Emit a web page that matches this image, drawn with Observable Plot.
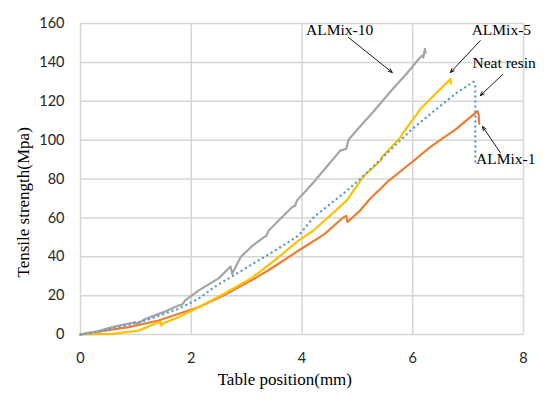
<!DOCTYPE html>
<html>
<head>
<meta charset="utf-8">
<script src="https://cdn.jsdelivr.net/npm/d3@7"></script>
<script src="https://cdn.jsdelivr.net/npm/@observablehq/plot@0.6"></script>
<style>
  html, body { margin: 0; padding: 0; background: #fff; }
  #chart svg { display: block; }
</style>
</head>
<body>
<div id="chart"></div>
<script>
// Tensile test curves: table position (mm) vs tensile strength (MPa)
const neatX = [0, 0.57, 1.17, 1.77, 2.13, 2.41, 3.01, 3.61, 3.94, 4.21, 4.81, 5.05, 5.47, 5.8, 6.0, 6.3, 6.56, 6.8, 7.1, 7.13, 7.13];
const neatY = [0, 2.9, 7.2, 13.2, 18.4, 24.3, 34.6, 44.9, 51, 60.3, 74, 80, 91.5, 100.5, 106, 113, 119, 124.5, 130, 128, 88];

const almix1X = [0, 0.26, 0.87, 1.41, 2.13, 2.58, 3.19, 3.5, 3.94, 4.4, 4.75, 4.8, 4.82, 5.05, 5.23, 5.42, 5.54, 6.0, 6.32, 6.8, 7.17, 7.19, 7.2];
const almix1Y = [0, 1.2, 3.8, 7.2, 14, 20, 29.5, 35, 43.2, 51.5, 60.3, 61, 57.8, 63.8, 69.8, 75, 78.5, 89, 96.5, 106, 114.9, 113, 108.4];

const almix5X = [0, 0.3, 0.57, 1.05, 1.41, 1.44, 1.46, 1.5, 1.77, 2.13, 2.53, 3.0, 3.12, 3.15, 3.19, 3.5, 3.94, 4.21, 4.81, 5.1, 5.42, 5.45, 5.78, 5.82, 6.14, 6.4, 6.65, 6.68, 6.69];
const almix5Y = [0, 0.2, 0.3, 2, 6.3, 6.6, 4.6, 5.8, 8.9, 14, 20, 27.5, 29.5, 30.5, 31.2, 38, 48.4, 53.5, 69, 81, 89.5, 91.5, 101.5, 103.5, 116, 123.5, 130.5, 131.5, 129];

const almix10X = [0, 0.3, 0.57, 0.99, 1.03, 1.17, 1.5, 1.77, 1.84, 1.89, 2.13, 2.5, 2.71, 2.74, 2.89, 3.1, 3.31, 3.35, 3.4, 3.61, 3.82, 3.88, 3.91, 4.21, 4.69, 4.8, 4.84, 5.0, 5.3, 5.63, 5.9, 6.1, 6.17, 6.19, 6.22, 6.23];
const almix10Y = [0, 1.5, 3.8, 6.3, 5.6, 8, 11.5, 14.9, 15.5, 17.5, 22.6, 29, 35, 31.2, 39.8, 45.5, 50, 50.5, 53.5, 59.5, 65.5, 66.4, 69, 78.3, 94.6, 95.5, 100.2, 105.5, 115, 126, 134.5, 141.5, 143.5, 142.5, 147, 145];

// Callout labels and their leader arrows (data coordinates)
const labelText = ["ALMix-10", "ALMix-5", "Neat resin", "ALMix-1"];
const labelX = [4.68, 7.6, 7.65, 7.68];
const labelY = [156.6, 156.6, 139.9, 90.5];
const arrowX1 = [4.84, 7.22, 7.62, 7.58];
const arrowY1 = [152.8, 151.2, 133.7, 93.6];
const arrowX2 = [5.63, 6.68, 7.22, 7.26];
const arrowY2 = [134.8, 134.8, 122.9, 107];

const xTicks = [0, 2, 4, 6, 8];
const yTicks = [0, 20, 40, 60, 80, 100, 120, 140, 160];

const xTitle = "Table position(mm)";
const yTitle = "Tensile strength(Mpa)";

const series = (xs, ys) => xs.map((x, i) => ({x, y: ys[i]}));
const labels = labelText.map((t, i) => ({t, x: labelX[i], y: labelY[i]}));
const arrows = arrowX1.map((x1, i) => ({x1, y1: arrowY1[i], x2: arrowX2[i], y2: arrowY2[i]}));

const serif = "'Liberation Serif', 'Times New Roman', serif";
const sans = "Lato, 'Open Sans', sans-serif";
const gridColor = "#d6d6d6";

const chart = Plot.plot({
  width: 558,
  height: 402,
  marginLeft: 80,
  marginRight: 35,
  marginTop: 23,
  marginBottom: 68,
  style: {background: "#fff", overflow: "visible"},
  x: {domain: [0, 8]},
  y: {domain: [0, 160]},
  marks: [
    Plot.ruleX(xTicks, {x: (d) => d, stroke: gridColor, strokeWidth: 1.5}),
    Plot.ruleY(yTicks, {y: (d) => d, stroke: gridColor, strokeWidth: 1.5}),
    Plot.axisX(xTicks, {tickSize: 0, tickPadding: 18, fontSize: 14.5, fontFamily: sans, fill: "#262626", label: null}),
    Plot.axisY(yTicks, {tickSize: 0, tickPadding: 16, fontSize: 14.5, fontFamily: sans, fill: "#262626", label: null}),
    Plot.line(series(almix1X, almix1Y), {x: "x", y: "y", stroke: "#ed7d31", strokeWidth: 2.2, strokeLinejoin: "round"}),
    Plot.line(series(almix5X, almix5Y), {x: "x", y: "y", stroke: "#ffc000", strokeWidth: 2.2, strokeLinejoin: "round"}),
    Plot.line(series(almix10X, almix10Y), {x: "x", y: "y", stroke: "#a5a5a5", strokeWidth: 2.2, strokeLinejoin: "round"}),
    Plot.line(series(neatX, neatY), {x: "x", y: "y", stroke: "#5b9bd5", strokeWidth: 2.4, strokeLinecap: "round", strokeDasharray: "0.01,5"}),
    Plot.arrow(arrows, {x1: "x1", y1: "y1", x2: "x2", y2: "y2", stroke: "#000", strokeWidth: 0.9, headLength: 7, headAngle: 45}),
    Plot.text(labels, {x: "x", y: "y", text: "t", fontFamily: serif, fontSize: 15.5, fill: "#000"}),
    Plot.text([xTitle], {x: () => 3.69, y: () => -23.4, fontFamily: serif, fontSize: 17, fill: "#000"}),
    Plot.text([yTitle], {x: () => -1.02, y: () => 29.3, rotate: -90, textAnchor: "start", fontFamily: serif, fontSize: 17, fill: "#000"})
  ]
});

document.getElementById("chart").appendChild(chart);
</script>
</body>
</html>
